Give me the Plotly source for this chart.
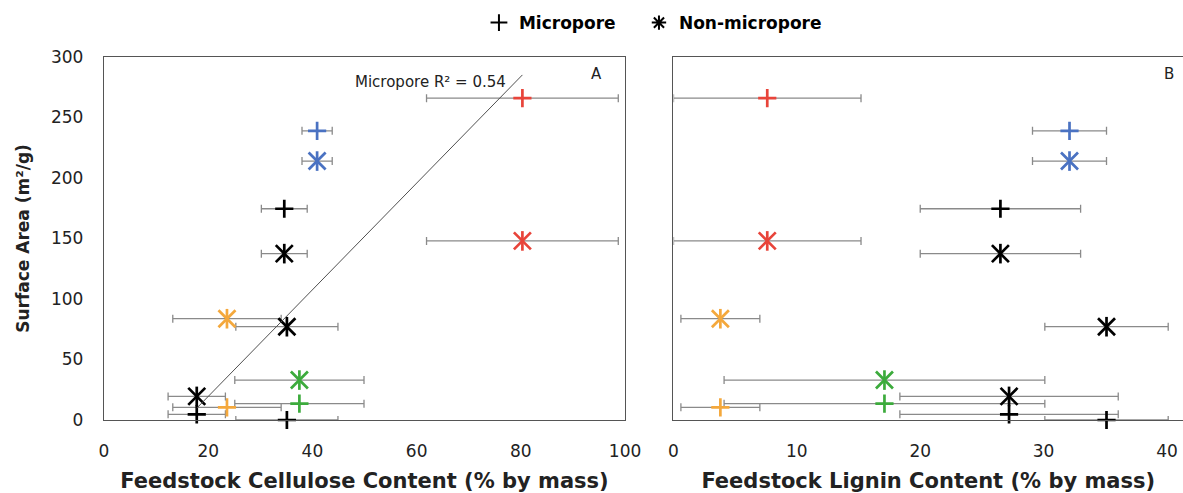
import numpy as np
import plotly.graph_objects as go

# ---- data ----
colors = ["#E8443A", "#4A72C2", "#000000", "#F4A83C", "#000000", "#3CAB3C", "#000000"]
cellulose = [80.3, 40.9, 34.6, 23.6, 35.1, 37.5, 17.8]
cellulose_err = [18.4, 2.9, 4.4, 10.4, 9.8, 12.4, 5.5]
lignin = [7.6, 32.1, 26.5, 3.8, 35.1, 17.1, 27.2]
lignin_err = [7.6, 3.0, 6.5, 3.2, 5.0, 13.0, 8.85]
micro_sa = [266, 239, 174.6, 10.5, 0, 13.5, 4.7]
nonmicro_sa = [148, 214, 137.5, 83.7, 77.1, 33, 19.5]

x_ticks_a = [0, 20, 40, 60, 80, 100]
x_ticks_b = [0, 10, 20, 30, 40]
y_ticks = [0, 50, 100, 150, 200, 250, 300]

FONT = "DejaVu Sans"
ERR_COLOR = "#8a8a8a"
MW = 2.7

fig = go.Figure()


def add_panel(xv, xerr, xa, ya):
    eb = dict(type="data", array=xerr, visible=True, color=ERR_COLOR,
              thickness=1.3, width=4)
    # micropore (+)
    fig.add_trace(go.Scatter(
        x=xv, y=micro_sa, mode="markers", xaxis=xa, yaxis=ya, showlegend=False,
        error_x=eb, cliponaxis=False,
        marker=dict(symbol="cross-thin-open", size=13, color=colors,
                    line=dict(width=MW, color=colors))))
    # non-micropore (x + vertical bar)
    fig.add_trace(go.Scatter(
        x=xv, y=nonmicro_sa, mode="markers", xaxis=xa, yaxis=ya, showlegend=False,
        error_x=eb, cliponaxis=False,
        marker=dict(symbol="x-thin-open", size=17, color=colors,
                    line=dict(width=MW, color=colors))))
    fig.add_trace(go.Scatter(
        x=xv, y=nonmicro_sa, mode="markers", xaxis=xa, yaxis=ya, showlegend=False,
        cliponaxis=False,
        marker=dict(symbol="line-ns-open", size=14, color=colors,
                    line=dict(width=MW, color=colors))))


add_panel(cellulose, cellulose_err, "x", "y")
add_panel(lignin, lignin_err, "x2", "y2")

# linear trendline for micropore vs cellulose
slope, intercept = np.polyfit(cellulose, micro_sa, 1)
r2 = np.corrcoef(cellulose, micro_sa)[0, 1] ** 2
xl = np.array([min(cellulose), max(cellulose)])
fig.add_trace(go.Scatter(x=xl, y=slope * xl + intercept, mode="lines",
                         line=dict(color="#505050", width=1), showlegend=False,
                         xaxis="x", yaxis="y", hoverinfo="skip"))

# legend entries (two legends so each can be placed like the reference)
fig.add_trace(go.Scatter(x=[None], y=[None], mode="markers", name="Micropore",
                         legend="legend",
                         marker=dict(symbol="cross-thin-open", size=12, color="black",
                                     line=dict(width=2.5, color="black"))))
fig.add_trace(go.Scatter(x=[None], y=[None], mode="markers", name="Non-micropore",
                         legend="legend2",
                         marker=dict(symbol="asterisk-open", size=12, color="black",
                                     line=dict(width=2.5, color="black"))))

tickfont = dict(family=FONT, size=17, color="#222222")
titlefont = dict(family=FONT, size=21, color="#222222", weight="bold")
ytitlefont = dict(family=FONT, size=17, color="#222222", weight="bold")
legfont = dict(family=FONT, size=17, color="black", weight="bold")
LINE = "#555555"

fig.update_layout(
    width=1183, height=493,
    margin=dict(l=104, r=0, t=57, b=73),
    paper_bgcolor="white", plot_bgcolor="white",
    font=dict(family=FONT),
    legend=dict(orientation="h", x=0.3475, xanchor="left", y=1.0935, yanchor="middle",
                font=legfont, itemsizing="constant", bgcolor="rgba(0,0,0,0)"),
    legend2=dict(orientation="h", x=0.4958, xanchor="left", y=1.0935, yanchor="middle",
                 font=legfont, itemsizing="constant", bgcolor="rgba(0,0,0,0)"),
    xaxis=dict(domain=[0, 0.4829], range=[0, 100], tickvals=x_ticks_a,
               showgrid=False, zeroline=False, showline=True, linecolor=LINE,
               linewidth=1.3, mirror=True, ticks="", tickfont=tickfont,
               ticklabelstandoff=15, automargin=False,
               title=dict(text="Feedstock Cellulose Content (% by mass)",
                          font=titlefont, standoff=13)),
    yaxis=dict(domain=[0, 1], range=[0, 300], tickvals=y_ticks,
               showgrid=False, zeroline=False, showline=True, linecolor=LINE,
               linewidth=1.3, mirror=True, ticks="", tickfont=tickfont,
               ticklabelstandoff=16, automargin=False,
               title=dict(text="Surface Area (m²/g)", font=ytitlefont, standoff=17)),
    xaxis2=dict(domain=[0.5278, 1], range=[0, 41.3], tickvals=x_ticks_b, anchor="y2",
                showgrid=False, zeroline=False, showline=True, linecolor=LINE,
                linewidth=1.3, mirror=True, ticks="", tickfont=tickfont,
                ticklabelstandoff=15, automargin=False,
                title=dict(text="Feedstock Lignin Content (% by mass)",
                           font=titlefont, standoff=13)),
    yaxis2=dict(domain=[0, 1], range=[0, 300], anchor="x2", matches="y",
                showgrid=False, zeroline=False, showline=True, linecolor=LINE,
                linewidth=1.3, mirror=False, ticks="", showticklabels=False,
                automargin=False),
    annotations=[
        dict(x=77.6, y=279, xref="x", yref="y", xanchor="right", yanchor="middle",
             text=f"Micropore R² = {r2:.2f}", showarrow=False,
             font=dict(family=FONT, size=15, color="#222222")),
        dict(x=94.6, y=286, xref="x", yref="y", xanchor="center", yanchor="middle",
             text="A", showarrow=False, font=dict(family=FONT, size=15, color="#222222")),
        dict(x=40.2, y=286, xref="x2", yref="y2", xanchor="center", yanchor="middle",
             text="B", showarrow=False, font=dict(family=FONT, size=15, color="#222222")),
    ],
)

# remove the page's default body margin so the figure fills the window exactly
fig.write_html("out.html", config={"displayModeBar": False},
               post_script="document.body.style.margin='0';document.body.style.overflow='hidden';")
